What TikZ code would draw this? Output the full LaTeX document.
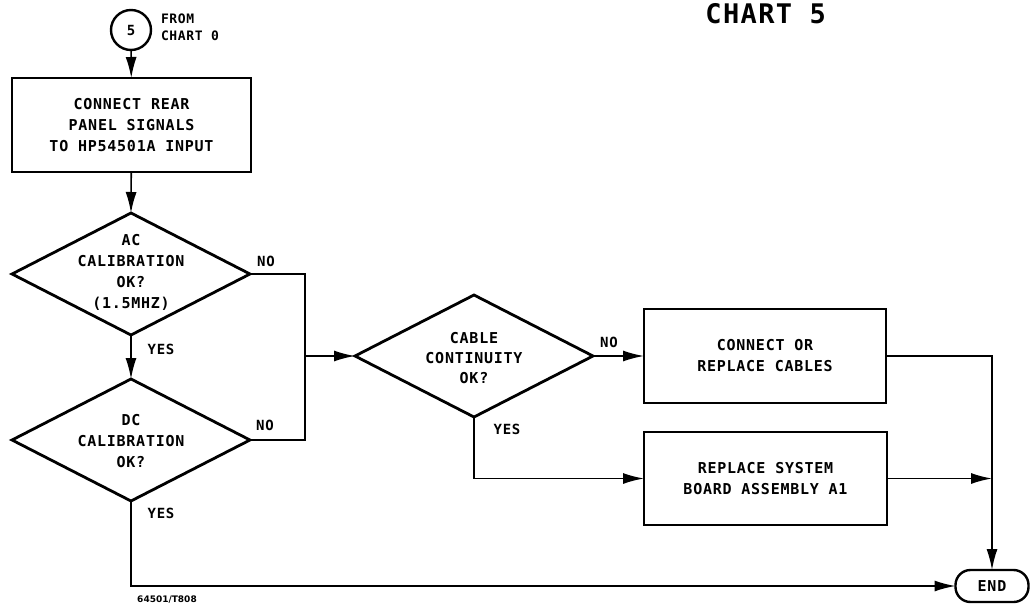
\documentclass[tikz,border=0pt]{standalone}
\usepackage{fontspec}
\usetikzlibrary{shapes.geometric,arrows.meta}
\newfontfamily\plotfont{DejaVu Sans Mono}[LetterSpace=5]
\newfontfamily\labfont{DejaVu Sans}
\begin{document}
\begin{tikzpicture}[x=1pt,y=-1pt,
  every node/.style={font=\plotfont\bfseries\fontsize{15}{21}\selectfont, inner sep=0pt, outer sep=0pt},
  boxnode/.style={draw, line width=2.8pt, rectangle, align=center},
  dianode/.style={draw, diamond, line width=2.8pt, minimum width=238pt, minimum height=122pt},
  dtext/.style={align=center},
  conn/.style={line width=1.6pt},
  arr/.style={conn, -{Latex[length=21pt,width=11pt]}},
  lbl/.style={font=\plotfont\bfseries\fontsize{14}{16}\selectfont}
]
\useasboundingbox (0,0) rectangle (1031,610);

% title
\node[font=\plotfont\bfseries\fontsize{27}{30}\selectfont, anchor=east] (title) at (826,14) {CHART 5};

% start connector
\node[draw, circle, line width=2.4pt, minimum size=40pt, font=\plotfont\bfseries\fontsize{14}{16}\selectfont] (c5) at (131,30) {5};
\node[align=left, anchor=west, font=\plotfont\bfseries\fontsize{13}{17}\selectfont] (from) at (161,27) {FROM\\CHART 0};

% boxes
\node[boxnode, minimum width=239pt, minimum height=94pt] (box1) at (131.5,125) {CONNECT REAR\\PANEL SIGNALS\\TO HP54501A INPUT};
\node[boxnode, minimum width=242pt, minimum height=94pt] (box2) at (765,356) {CONNECT OR\\REPLACE CABLES};
\node[boxnode, minimum width=243pt, minimum height=93pt] (box3) at (765.5,478.5) {REPLACE SYSTEM\\BOARD ASSEMBLY A1};

% diamonds
\node[dianode] (d1) at (131,274) {};
\node[dtext] (d1t) at (131,272) {AC\\CALIBRATION\\OK?\\(1.5MHZ)};
\node[dianode] (d2) at (131,440) {};
\node[dtext] (d2t) at (131,441) {DC\\CALIBRATION\\OK?};
\node[dianode] (d3) at (474,356) {};
\node[dtext, font=\plotfont\bfseries\fontsize{15}{20}\selectfont] (d3t) at (474,358) {CABLE\\CONTINUITY\\OK?};

% end terminal
\node[draw, line width=2.4pt, rounded corners=15pt, minimum width=73pt, minimum height=32pt] (end) at (992,586) {END};

% labels
\node[lbl] (no1) at (266,261) {NO};
\node[lbl] (no2) at (265,425) {NO};
\node[lbl] (yes1) at (161,349) {YES};
\node[lbl] (yes2) at (161,513) {YES};
\node[lbl] (no3) at (609,342) {NO};
\node[lbl] (yes3) at (507,429) {YES};
\node[font=\labfont\bfseries\fontsize{9}{10}\selectfont] (ref) at (167,600) {64501/T808};

% junction coordinates
\coordinate (J) at (305,356);
\coordinate (K) at (end.north |- box3.east);

% connectors
\draw[arr] (c5) -- (box1);
\draw[arr] (box1) -- (d1.north);
\draw[arr] (d1.south) -- (d2.north);
\draw[conn] (d1.east) -| (J);
\draw[conn] (d2.east) -| (J);
\draw[arr] (J) -- (d3.west);
\draw[arr] (d3.east) -- (box2.west);
\draw[arr] (d3.south) |- (box3.west);
\draw[arr] (box2.east) -| (end.north);
\draw[arr] (box3.east) -- (K);
\draw[arr] (d2.south) |- (end.west);
\end{tikzpicture}
\end{document}
